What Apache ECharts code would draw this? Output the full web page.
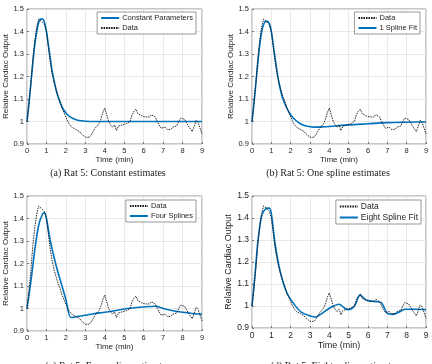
<!DOCTYPE html>
<html>
<head>
<meta charset="utf-8">
<script src="https://cdn.jsdelivr.net/npm/echarts@6/dist/echarts.min.js"></script>
<style>
  html, body { margin: 0; padding: 0; background: #fff; }
  #main { width: 432px; height: 364px; }
</style>
</head>
<body>
<div id="main"></div>
<script>
// measured cardiac output (same data in all four panels)
const dataT = [0,0.1,0.2,0.3,0.4,0.5,0.6,0.7,0.8,0.9,1.0,1.1,1.2,1.3,1.4,1.5,1.6,1.7,1.8,1.9,
  2.0,2.1,2.2,2.3,2.4,2.5,2.6,2.7,2.8,2.9,3.0,3.1,3.2,3.3,3.4,3.5,3.6,3.7,3.8,3.9,
  4.0,4.1,4.2,4.3,4.4,4.5,4.6,4.7,4.8,4.9,5.0,5.1,5.2,5.3,5.4,5.5,5.6,5.7,5.8,5.9,
  6.0,6.1,6.2,6.3,6.4,6.5,6.6,6.7,6.8,6.9,7.0,7.1,7.2,7.3,7.4,7.5,7.6,7.7,7.8,7.9,
  8.0,8.1,8.2,8.3,8.4,8.5,8.6,8.7,8.8,8.9,9.0];
const dataY = [1.00,1.08,1.17,1.28,1.36,1.42,1.455,1.45,1.44,1.43,1.40,1.33,1.26,1.21,1.17,1.14,1.11,1.09,1.06,1.04,
  1.02,1.00,0.985,0.975,0.97,0.965,0.96,0.955,0.945,0.94,0.93,0.925,0.93,0.94,0.955,0.97,0.98,0.99,1.01,1.04,
  1.06,1.03,1.00,0.985,0.975,0.985,0.96,0.98,0.975,0.985,0.98,0.99,0.985,1.00,1.03,1.045,1.055,1.035,1.035,1.025,
  1.03,1.02,1.025,1.02,1.03,1.03,1.02,1.00,0.985,0.97,0.965,0.975,0.965,0.96,0.965,0.975,0.97,0.98,1.00,1.015,
  1.02,1.01,0.995,0.98,0.975,0.955,0.98,1.005,0.995,0.99,0.945];

// fits
const constT = [0,0.1,0.2,0.3,0.4,0.5,0.6,0.7,0.8,0.9,1.0,1.1,1.2,1.3,1.4,1.5,1.6,1.7,1.8,1.9,2.0,2.2,2.4,2.6,2.8,3.0,3.5,9];
const constY = [1.0,1.08,1.17,1.26,1.34,1.40,1.44,1.455,1.455,1.44,1.40,1.34,1.28,1.22,1.18,1.14,1.11,1.085,1.065,1.05,1.038,1.022,1.012,1.006,1.003,1.001,1.0,1.0];

const oneT = [0,0.1,0.2,0.3,0.4,0.5,0.6,0.7,0.8,0.9,1.0,1.1,1.2,1.3,1.4,1.5,1.6,1.8,2.0,2.2,2.5,2.8,3.2,3.6,4,5,6,7,8,9];
const oneY = [1.0,1.08,1.17,1.26,1.34,1.40,1.43,1.445,1.445,1.435,1.40,1.34,1.28,1.22,1.17,1.13,1.10,1.06,1.03,1.01,0.99,0.98,0.975,0.976,0.978,0.985,0.99,0.995,0.997,0.998];

const fourT = [0,0.2,0.4,0.6,0.8,0.9,1.0,1.2,1.5,1.8,2.0,2.25,2.5,3,3.5,4,4.5,5,5.5,6,6.6,7,7.5,8,8.5,9];
const fourY = [1.0,1.12,1.26,1.37,1.42,1.425,1.40,1.30,1.19,1.10,1.04,0.96,0.963,0.97,0.978,0.983,0.99,0.998,1.003,1.007,1.01,1.0,0.99,0.983,0.978,0.975];

const eightT = [0,0.1,0.2,0.3,0.4,0.5,0.6,0.7,0.8,0.9,1.0,1.1,1.2,1.4,1.6,1.8,2.0,2.5,3.0,3.3,3.6,4.0,4.5,4.8,5.0,5.3,5.6,5.8,6.0,6.4,6.7,7.0,7.3,7.6,7.9,8.5,9];
const eightY = [1.0,1.09,1.19,1.29,1.36,1.41,1.43,1.44,1.445,1.445,1.42,1.35,1.28,1.18,1.11,1.06,1.03,0.975,0.955,0.95,0.965,0.99,1.008,0.99,0.983,1.0,1.05,1.035,1.025,1.02,1.015,0.966,0.962,0.972,0.985,0.985,0.983];

const xTicks = [0,1,2,3,4,5,6,7,8,9];
const yTicks = [0.9,1,1.1,1.2,1.3,1.4,1.5];

const pairs = (t, y) => t.map((v, i) => [v, y[i]]);

const panels = [
  { grid: { left: 27, top: 9, width: 175, height: 135 }, font: 8,
    series: [
      { name: "Constant Parameters", t: constT, y: constY, fit: true },
      { name: "Data", t: dataT, y: dataY },
    ],
    legend: { right: 236, top: 12 },
    caption: { text: "(a) Rat 5: Constant estimates", x: 108, y: 173 } },
  { grid: { left: 252, top: 9, width: 174, height: 135 }, font: 8,
    series: [
      { name: "Data", t: dataT, y: dataY },
      { name: "1 Spline Fit", t: oneT, y: oneY, fit: true },
    ],
    legend: { right: 12, top: 12 },
    caption: { text: "(b) Rat 5: One spline estimates", x: 328, y: 173 } },
  { grid: { left: 27, top: 196, width: 175, height: 135 }, font: 8,
    series: [
      { name: "Data", t: dataT, y: dataY },
      { name: "Four Splines", t: fourT, y: fourY, fit: true },
    ],
    legend: { right: 236, top: 200 },
    caption: { text: "(c) Rat 5: Four spline estimates", x: 108, y: 366 } },
  { grid: { left: 252, top: 196, width: 174, height: 132 }, font: 9,
    series: [
      { name: "Data", t: dataT, y: dataY },
      { name: "Eight Spline Fit", t: eightT, y: eightY, fit: true },
    ],
    legend: { right: 11, top: 200 },
    caption: { text: "(d) Rat 5: Eight spline estimates", x: 335, y: 366 } },
];

const tickFmt = (v) => String(parseFloat(v.toFixed(1)));
const txt = "#262626";

const option = {
  backgroundColor: "#fff",
  animation: false,
  grid: [], xAxis: [], yAxis: [], series: [], legend: [], graphic: [],
};

panels.forEach((p, i) => {
  option.grid.push(Object.assign({ show: true, borderColor: "#777", borderWidth: 0.8, backgroundColor: "#fff" }, p.grid));
  option.xAxis.push({
    gridIndex: i, type: "value", min: 0, max: 9, interval: 1,
    name: "Time (min)", nameLocation: "middle", nameGap: p.font + 4,
    nameTextStyle: { fontSize: p.font, color: txt, fontFamily: "Liberation Sans" },
    axisLine: { show: false },
    axisTick: { show: true, inside: true, length: 2, lineStyle: { color: "#777" } },
    axisLabel: { fontSize: p.font - 0.5, color: txt, margin: 3, fontFamily: "Liberation Sans" },
    splitLine: { show: true, lineStyle: { color: "#e3e3e3", width: 0.8 } },
  });
  option.yAxis.push({
    gridIndex: i, type: "value", min: 0.9, max: 1.5, interval: 0.1,
    name: "Relative Cardiac Output", nameLocation: "middle", nameGap: p.font + 9,
    nameTextStyle: { fontSize: p.font, color: txt, fontFamily: "Liberation Sans" },
    axisLine: { show: false },
    axisTick: { show: true, inside: true, length: 2, lineStyle: { color: "#777" } },
    axisLabel: { fontSize: p.font - 0.5, color: txt, margin: 3, formatter: tickFmt, fontFamily: "Liberation Sans" },
    splitLine: { show: true, lineStyle: { color: "#e3e3e3", width: 0.8 } },
  });
  p.series.forEach((s) => {
    option.series.push({
      name: s.name + "#" + i, type: "line", xAxisIndex: i, yAxisIndex: i,
      data: pairs(s.t, s.y), showSymbol: false, symbol: "none",
      smooth: s.fit ? 0.3 : false,
      lineStyle: s.fit ? { color: "#0072BD", width: 1.6 } : { color: "#111", width: 0.9, type: [1.5, 1] },
      itemStyle: { color: s.fit ? "#0072BD" : "#111" },
      z: s.fit ? 2 : 3,
    });
  });
  option.legend.push(Object.assign({
    orient: "vertical", data: p.series.map((s) => s.name + "#" + i),
    formatter: (n) => n.split("#")[0],
    backgroundColor: "#fff", borderColor: "#555", borderWidth: 0.6, borderRadius: 0,
    padding: [2, 3, 2, 3], itemGap: 2, itemWidth: 18, itemHeight: 8,
    itemStyle: { color: "rgba(0,0,0,0)", borderWidth: 0, opacity: 0 },
    textStyle: { fontSize: p.font - 0.5, color: txt, fontFamily: "Liberation Sans", padding: [0, 0, 0, -2] },
  }, p.legend));
  option.graphic.push({
    type: "text", x: p.caption.x, y: p.caption.y,
    style: { text: p.caption.text, font: '10px "Liberation Serif"', fill: "#222", textAlign: "center", textVerticalAlign: "middle" },
  });
});

const chart = echarts.init(document.getElementById("main"));
chart.setOption(option);
</script>
</body>
</html>
